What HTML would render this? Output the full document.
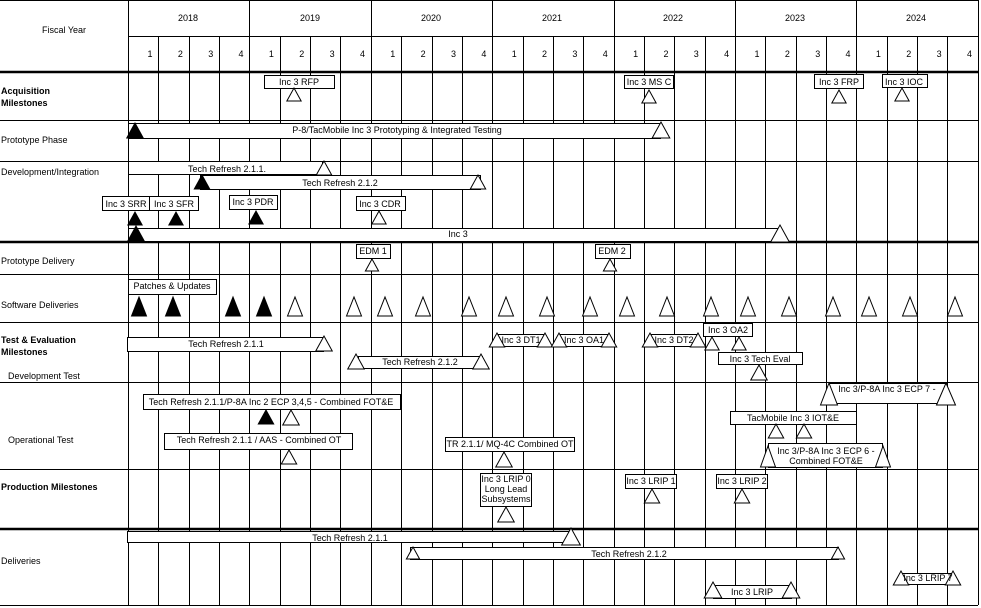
<!DOCTYPE html>
<html><head><meta charset="utf-8">
<style>
html,body{margin:0;padding:0;background:#fff;}
svg{display:block;}
text{font-family:"Liberation Sans",Arial,sans-serif;font-size:9px;fill:#000;}
.b{font-weight:bold;}
</style></head>
<body>
<svg id="s" width="981" height="608" viewBox="0 0 981 608" xmlns="http://www.w3.org/2000/svg">
<g id="grid" stroke="#000" stroke-width="1"></g>
<g id="shapes" stroke="#000" stroke-width="1" fill="#fff">
<rect x="264.5" y="75.5" width="70" height="13"/>
<rect x="624.5" y="75.5" width="49" height="13"/>
<rect x="814.5" y="74.5" width="49" height="14"/>
<rect x="882.5" y="74.5" width="45" height="13"/>
<rect x="128.5" y="123.5" width="532" height="15"/>
<rect x="128.5" y="161.5" width="194" height="13"/>
<rect x="200.5" y="175.5" width="280" height="14"/>
<rect x="102.5" y="196.5" width="47" height="14"/>
<rect x="149.5" y="196.5" width="49" height="14"/>
<rect x="229.5" y="195.5" width="48" height="14"/>
<rect x="356.5" y="196.5" width="49" height="14"/>
<rect x="128.5" y="228.5" width="652" height="13"/>
<rect x="356.5" y="244.5" width="34" height="14"/>
<rect x="595.5" y="244.5" width="35" height="14"/>
<rect x="128.5" y="279.5" width="88" height="15"/>
<rect x="127.5" y="337.5" width="196" height="14"/>
<rect x="358.5" y="356.5" width="124" height="12"/>
<rect x="497.5" y="334.5" width="48" height="12"/>
<rect x="559.5" y="334.5" width="50" height="12"/>
<rect x="650.5" y="334.5" width="48" height="12"/>
<rect x="703.5" y="323.5" width="49" height="13"/>
<rect x="718.5" y="352.5" width="84" height="12"/>
<rect x="143.5" y="394.5" width="257" height="15"/>
<rect x="164.5" y="433.5" width="188" height="16"/>
<rect x="445.5" y="437.5" width="129" height="14"/>
<rect x="829.5" y="383.5" width="117" height="20"/>
<rect x="730.5" y="411.5" width="126" height="13"/>
<rect x="768.5" y="443.5" width="114" height="24"/>
<rect x="480.5" y="473.5" width="51" height="33"/>
<rect x="625.5" y="474.5" width="51" height="14"/>
<rect x="716.5" y="474.5" width="51" height="14"/>
<rect x="127.5" y="531.5" width="444" height="11"/>
<rect x="410.5" y="547.5" width="428" height="12"/>
<rect x="713.5" y="585.5" width="78" height="13"/>
<rect x="901.5" y="573.5" width="52" height="11"/>
</g>
<g id="tris" stroke="#000" stroke-width="1"></g>
<g id="labels">
<text x="64" y="33" text-anchor="middle">Fiscal Year</text>
<text x="188" y="21" text-anchor="middle">2018</text>
<text x="310" y="21" text-anchor="middle">2019</text>
<text x="431" y="21" text-anchor="middle">2020</text>
<text x="552" y="21" text-anchor="middle">2021</text>
<text x="673" y="21" text-anchor="middle">2022</text>
<text x="795" y="21" text-anchor="middle">2023</text>
<text x="916" y="21" text-anchor="middle">2024</text>
<g id="q"></g>
<text class="b" x="1" y="94">Acquisition</text>
<text class="b" x="1" y="106">Milestones</text>
<text x="1" y="143">Prototype Phase</text>
<text x="1" y="175">Development/Integration</text>
<text x="1" y="264">Prototype Delivery</text>
<text x="1" y="308">Software Deliveries</text>
<text class="b" x="1" y="343">Test &amp; Evaluation</text>
<text class="b" x="1" y="355">Milestones</text>
<text x="8" y="379">Development Test</text>
<text x="8" y="443">Operational Test</text>
<text class="b" x="1" y="490">Production Milestones</text>
<text x="1" y="564">Deliveries</text>

<text x="299" y="85" text-anchor="middle">Inc 3 RFP</text>
<text x="649" y="85" text-anchor="middle">Inc 3 MS C</text>
<text x="839" y="85" text-anchor="middle">Inc 3 FRP</text>
<text x="904" y="85" text-anchor="middle">Inc 3 IOC</text>
<text x="397" y="133" text-anchor="middle">P-8/TacMobile Inc 3 Prototyping &amp; Integrated Testing</text>
<text x="227" y="172" text-anchor="middle">Tech Refresh 2.1.1.</text>
<text x="340" y="186" text-anchor="middle">Tech Refresh 2.1.2</text>
<text x="126" y="207" text-anchor="middle">Inc 3 SRR</text>
<text x="174" y="207" text-anchor="middle">Inc 3 SFR</text>
<text x="253" y="205" text-anchor="middle">Inc 3 PDR</text>
<text x="380" y="207" text-anchor="middle">Inc 3  CDR</text>
<text x="458" y="237" text-anchor="middle">Inc 3</text>
<text x="373" y="254" text-anchor="middle">EDM 1</text>
<text x="612" y="254" text-anchor="middle">EDM 2</text>
<text x="172" y="289" text-anchor="middle">Patches &amp; Updates</text>
<text x="226" y="347" text-anchor="middle">Tech Refresh 2.1.1</text>
<text x="420" y="365" text-anchor="middle">Tech Refresh 2.1.2</text>
<text x="521" y="343" text-anchor="middle">Inc 3 DT1</text>
<text x="584" y="343" text-anchor="middle">Inc 3 OA1</text>
<text x="674" y="343" text-anchor="middle">Inc 3 DT2</text>
<text x="728" y="333" text-anchor="middle">Inc 3 OA2</text>
<text x="760" y="362" text-anchor="middle">Inc 3 Tech Eval</text>
<text x="271" y="405" text-anchor="middle">Tech Refresh 2.1.1/P-8A Inc 2 ECP 3,4,5 - Combined  FOT&amp;E</text>
<text x="259" y="443" text-anchor="middle">Tech Refresh 2.1.1 / AAS - Combined OT</text>
<text x="510" y="447" text-anchor="middle">TR 2.1.1/ MQ-4C Combined OT</text>
<text x="887" y="392" text-anchor="middle">Inc 3/P-8A Inc 3  ECP 7 -</text>
<text x="793" y="421" text-anchor="middle">TacMobile Inc 3 IOT&amp;E</text>
<text x="826" y="454" text-anchor="middle">Inc 3/P-8A Inc 3 ECP 6 -</text>
<text x="826" y="464" text-anchor="middle">Combined  FOT&amp;E</text>
<text x="506" y="482" text-anchor="middle">Inc 3 LRIP 0</text>
<text x="506" y="492" text-anchor="middle">Long Lead</text>
<text x="506" y="502" text-anchor="middle">Subsystems</text>
<text x="651" y="484" text-anchor="middle">Inc 3 LRIP 1</text>
<text x="742" y="484" text-anchor="middle">Inc 3 LRIP 2</text>
<text x="350" y="541" text-anchor="middle">Tech Refresh 2.1.1</text>
<text x="629" y="557" text-anchor="middle">Tech Refresh 2.1.2</text>
<text x="752" y="595" text-anchor="middle">Inc 3 LRIP</text>
<text x="928" y="581" text-anchor="middle">Inc 3 LRIP 7</text>
</g>
</svg>
<script>
(function(){
var NS="http://www.w3.org/2000/svg";
function el(p,n,a){var e=document.createElementNS(NS,n);for(var k in a)e.setAttribute(k,a[k]);p.appendChild(e);return e;}
var g=document.getElementById('grid');
var X=function(i){return Math.round(128+i*30.35)+0.5;};
for(var i=0;i<=28;i++){
  var yTop=(i%4==0)?0:36;
  el(g,'line',{x1:X(i),y1:yTop,x2:X(i),y2:605});
}
el(g,'line',{x1:0,y1:0.5,x2:978,y2:0.5});
el(g,'line',{x1:128,y1:36.5,x2:978,y2:36.5});
[120,161,274,322,382,469,605].forEach(function(y){el(g,'line',{x1:0,y1:y+0.5,x2:978,y2:y+0.5});});
[72,242,529].forEach(function(y){el(g,'line',{x1:0,y1:y,x2:978,y2:y,'stroke-width':2.5});});
var q=document.getElementById('q');
for(var i=0;i<28;i++){var t=el(q,'text',{x:128+i*30.35+22,y:57,'text-anchor':'middle'});t.textContent=String(i%4+1);}
var T=document.getElementById('tris');
function tri(cx,y1,y2,f,w){w=w||(y2-y1)*1.1;el(T,'polygon',{points:(cx-w/2)+','+y2+' '+cx+','+y1+' '+(cx+w/2)+','+y2,fill:f?'#000':'#fff'});}
tri(294,88,101);tri(649,90,103);tri(839,90,103);tri(902,88,101);
tri(135,123,138,1);tri(661,122,138);
tri(324,161,175);tri(202,175,189,1);tri(478,175,189);
tri(135,212,225,1);tri(176,212,225,1);tri(256,211,224,1);tri(379,211,224);
tri(136,226,242,1);tri(780,225,242);
tri(372,259,271);tri(610,259,271);
[139,173,233,264].forEach(function(x){tri(x,297,316,1,15);});
[295,354,385,423,469,506,547,590,627,667,711,748,789,833,869,910,955].forEach(function(x){tri(x,297,316,0,15);});
tri(324,336,351);tri(356,354,369);tri(481,354,369);
tri(497,333,347);tri(545,333,347);tri(559,333,347);tri(609,333,347);
tri(650,333,347);tri(698,333,347);tri(712,337,350);tri(739,337,350);tri(759,365,380);
tri(266,410,424,1);tri(291,410,425);tri(289,450,464);tri(504,452,467);
tri(829,383,405,0,17);tri(946,383,405,0,19);
tri(776,424,438);tri(804,424,438);
tri(768,446,467,0,15);tri(883,446,467,0,15);
tri(506,507,522);tri(652,489,503);tri(742,489,503);
tri(571,528,545);tri(413,547,559);tri(838,547,559);
tri(713,582,598);tri(791,582,598);tri(901,571,585);tri(953,571,585);
})();
</script>
</body></html>
